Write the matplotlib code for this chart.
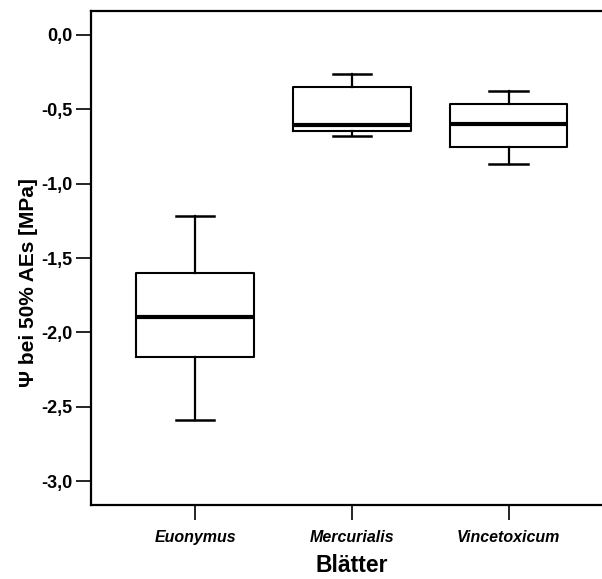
import matplotlib
matplotlib.use("Agg")
import matplotlib.pyplot as plt

# Werte (MPa)
arten = ["Euonymus", "Mercurialis", "Vincetoxicum"]
whisker_oben = [-1.215, -0.26, -0.375]
q3 = [-1.599, -0.352, -0.466]
median = [-1.896, -0.605, -0.599]
q1 = [-2.163, -0.644, -0.751]
whisker_unten = [-2.589, -0.681, -0.868]

yticks = [0.0, -0.5, -1.0, -1.5, -2.0, -2.5, -3.0]
ytick_labels = ["0,0", "-0,5", "-1,0", "-1,5", "-2,0", "-2,5", "-3,0"]

plt.rcParams['font.family'] = ['Liberation Sans', 'DejaVu Sans']

stats = []
for i in range(len(arten)):
    stats.append({
        'label': arten[i],
        'whishi': whisker_oben[i],
        'q3': q3[i],
        'med': median[i],
        'q1': q1[i],
        'whislo': whisker_unten[i],
        'fliers': [],
    })

fig = plt.figure(figsize=(6.02, 5.79), dpi=100)
ax = fig.add_axes([90.7/602, 73.7/579, (613-90.7)/602, (505.3-11)/579])

ax.bxp(stats, positions=range(len(arten)), widths=0.75, showfliers=False,
       boxprops=dict(color='black', linewidth=1.5),
       whiskerprops=dict(color='black', linewidth=1.6),
       capprops=dict(color='black', linewidth=1.8),
       medianprops=dict(color='black', linewidth=3.0),
       capwidths=0.245)

ax.set_xlim(-0.666, 2.666)
ax.set_ylim(-3.163, 0.161)

ax.set_yticks(yticks)
ax.set_yticklabels(ytick_labels, fontsize=13, fontweight='bold')
ax.set_xticks(range(len(arten)))
ax.set_xticklabels(arten, fontsize=11.5, fontweight='bold', style='italic')

ax.tick_params(axis='both', direction='out', length=10.5, width=1.2)
ax.tick_params(axis='y', pad=2.5)
ax.tick_params(axis='x', pad=7)

for s in ['left', 'bottom', 'top']:
    ax.spines[s].set_linewidth(1.6)
ax.spines['right'].set_visible(False)

ax.set_ylabel("Ψ bei 50% AEs [MPa]", fontsize=15, fontweight='bold')
ax.yaxis.set_label_coords(-0.101, 0.45)
ax.set_xlabel("Blätter", fontsize=16.5, fontweight='bold', labelpad=7)

fig.savefig("out.png", dpi=100)
